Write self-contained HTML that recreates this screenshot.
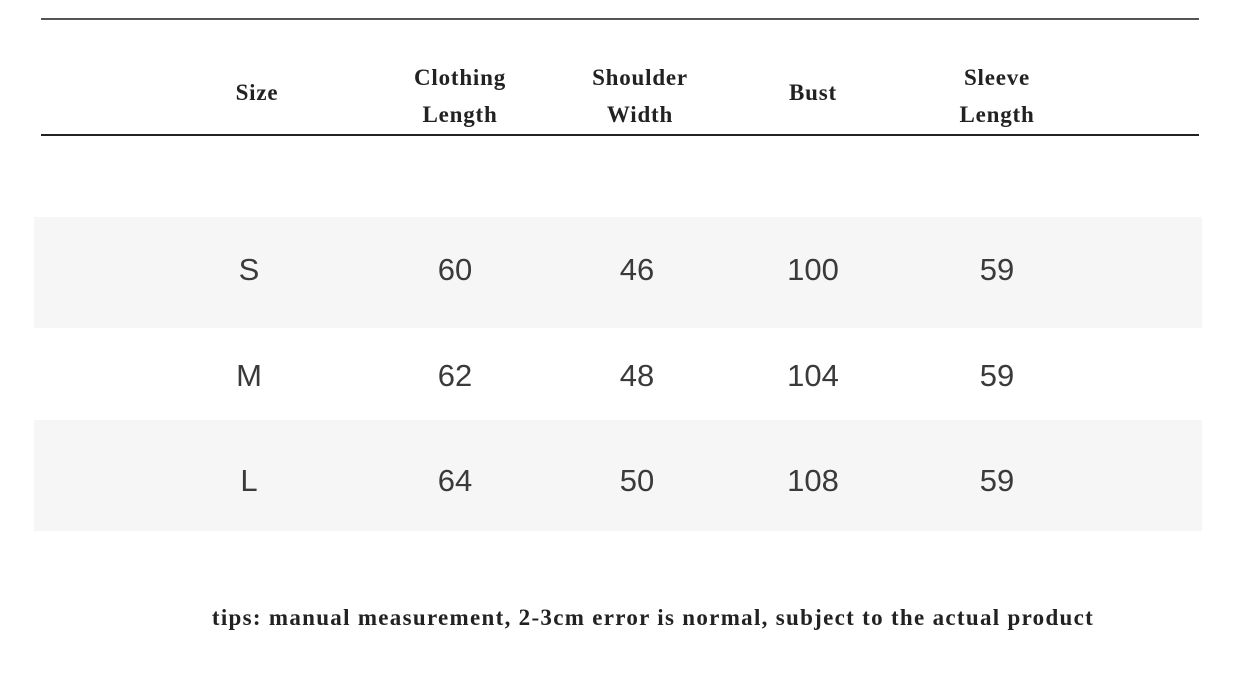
<!DOCTYPE html>
<html><head><style>
body{margin:0;width:1259px;height:684px;background:#fff;position:relative;overflow:hidden}
.l{position:absolute;left:41px;width:1158px;background:#333}
.band{position:absolute;left:34px;width:1168px;background:#f6f6f6}
.h{position:absolute;font-family:"Liberation Serif",serif;font-weight:bold;font-size:23px;letter-spacing:0.8px;color:#222;text-align:center;width:200px;line-height:37px}
.v{position:absolute;font-family:"Liberation Sans",sans-serif;font-size:31px;color:#3a3a3a;text-align:center;width:200px;line-height:40px}
.tip{position:absolute;top:605px;left:0;width:1306px;text-align:center;font-family:"Liberation Serif",serif;font-weight:bold;font-size:23px;letter-spacing:1.3px;color:#222}
</style></head><body>
<div class="l" style="top:18px;height:2px;background:#555"></div>
<div class="l" style="top:134px;height:2px;background:#222"></div>
<div class="band" style="top:217px;height:111px"></div>
<div class="band" style="top:420px;height:111px"></div>
<div class="h" style="left:157px;top:74px">Size</div>
<div class="h" style="left:360px;top:59px">Clothing<br>Length</div>
<div class="h" style="left:540px;top:59px">Shoulder<br>Width</div>
<div class="h" style="left:713px;top:74px">Bust</div>
<div class="h" style="left:897px;top:59px">Sleeve<br>Length</div>
<div class="v" style="left:149px;top:250px">S</div><div class="v" style="left:355px;top:250px">60</div><div class="v" style="left:537px;top:250px">46</div><div class="v" style="left:713px;top:250px">100</div><div class="v" style="left:897px;top:250px">59</div>
<div class="v" style="left:149px;top:356px">M</div><div class="v" style="left:355px;top:356px">62</div><div class="v" style="left:537px;top:356px">48</div><div class="v" style="left:713px;top:356px">104</div><div class="v" style="left:897px;top:356px">59</div>
<div class="v" style="left:149px;top:461px">L</div><div class="v" style="left:355px;top:461px">64</div><div class="v" style="left:537px;top:461px">50</div><div class="v" style="left:713px;top:461px">108</div><div class="v" style="left:897px;top:461px">59</div>
<div class="tip">tips: manual measurement, 2-3cm error is normal, subject to the actual product</div>
</body></html>
